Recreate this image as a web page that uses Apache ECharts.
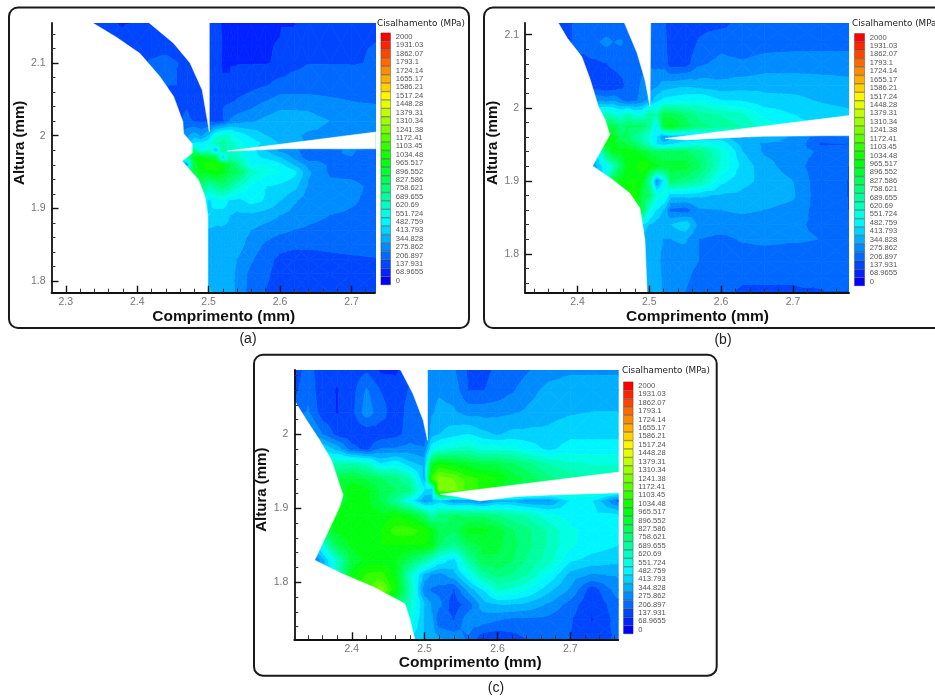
<!DOCTYPE html>
<html><head><meta charset="utf-8">
<style>html,body{margin:0;padding:0;background:#fff}#c{width:935px;height:698px;filter:blur(0.4px)}</style>
<script src="https://cdn.jsdelivr.net/npm/echarts@6/dist/echarts.min.js"></script>
</head><body><div id="c"></div>
<script>
const levelLabels=['2000','1931.03','1862.07','1793.1','1724.14','1655.17','1586.21','1517.24','1448.28','1379.31','1310.34','1241.38','1172.41','1103.45','1034.48','965.517','896.552','827.586','758.621','689.655','620.69','551.724','482.759','413.793','344.828','275.862','206.897','137.931','68.9655','0'];
const legendTitle='Cisalhamento (MPa)', xName='Comprimento (mm)', yName='Altura (mm)';

/* ---- panel (a) ---- */
const xA=[2.33,2.38,2.42,2.44,2.46,2.47,2.48,2.49,2.50,2.51,2.52,2.53,2.54,2.56,2.58,2.60,2.62,2.64,2.67,2.70,2.735];
const yA=[2.155,2.10,2.06,2.04,2.02,2.00,1.99,1.98,1.97,1.96,1.95,1.93,1.91,1.89,1.87,1.85,1.83,1.81,1.784];
const shearA=[
[120,100,110,100,100,100,100,100,130,110,100,100,100,100,100,100,100,150,170,170,170],
[130,130,180,190,170,150,120,120,150,130,100,100,100,100,100,110,150,170,170,170,175],
[150,150,170,170,170,150,130,120,150,120,110,110,150,175,190,230,230,230,220,210,190],
[150,150,170,170,170,170,150,130,150,130,170,190,200,230,270,300,300,300,280,260,250],
[170,170,170,170,170,180,170,160,150,150,170,250,280,300,330,340,340,330,310,300,280],
[250,250,250,250,250,300,350,300,380,540,600,580,500,430,380,340,320,300,300,300,300],
[300,300,300,300,300,300,450,450,500,650,680,620,550,480,430,370,330,300,300,300,300],
[700,700,700,700,700,700,700,500,600,350,700,600,600,480,380,290,260,200,230,250,200],
[600,600,600,600,600,600,950,950,900,850,400,650,600,480,430,380,290,200,240,240,200],
[300,300,300,300,300,300,900,1000,1050,1050,950,850,750,500,520,470,370,280,230,230,210],
[850,850,850,850,850,850,850,950,950,1000,950,850,820,620,540,520,470,320,230,220,200],
[750,750,750,750,750,750,750,750,650,700,750,700,600,500,450,430,400,300,260,260,220],
[600,600,600,600,600,600,600,600,430,480,500,430,420,470,440,380,320,270,270,250,220],
[450,450,450,450,450,450,450,450,450,420,400,380,360,360,340,310,280,260,240,230,210],
[370,370,370,370,370,370,370,370,370,360,370,370,340,310,280,260,240,230,220,210,200],
[350,350,350,350,350,350,350,350,350,350,360,370,340,280,230,190,180,180,185,190,190],
[350,350,350,350,350,350,350,350,350,340,350,350,310,250,190,160,155,155,160,165,170],
[350,350,350,350,350,350,350,350,350,330,340,340,290,220,180,155,150,150,150,155,165],
[400,400,400,400,400,400,400,400,400,350,350,340,290,210,170,155,150,150,150,155,165]];
const leftEdgeA=[[2.28,2.155],[2.338,2.155],[2.3715,2.135],[2.404,2.113],[2.432,2.081],[2.451,2.054],[2.464,2.019],[2.465,2.003],[2.477,1.989],[2.477,1.976],[2.463,1.965],[2.486,1.939],[2.495,1.916],[2.499,1.889],[2.499,1.784],[2.28,1.784]];
const toolGapA=[[2.417,2.155],[2.451,2.127],[2.474,2.10],[2.491,2.063],[2.501,2.0055],[2.501,2.155]];
const wedgeA=[[2.526,1.979],[2.734,2.005],[2.734,1.982],[2.605,1.982],[2.535,1.979]];

/* ---- panel (b) ---- */
const xB=[2.37,2.39,2.41,2.43,2.44,2.45,2.46,2.47,2.48,2.49,2.50,2.51,2.52,2.53,2.55,2.57,2.60,2.63,2.66,2.70,2.74,2.78];
const yB=[2.116,2.09,2.06,2.03,2.01,1.99,1.975,1.96,1.95,1.94,1.92,1.90,1.88,1.86,1.84,1.82,1.79,1.77,1.747];
const shearB=[
[170,170,180,180,190,190,190,190,190,190,190,200,180,150,130,150,150,200,210,210,210,210],
[170,170,200,240,260,240,250,220,220,210,210,210,190,140,130,180,220,200,210,210,210,210],
[170,170,150,160,170,190,200,200,220,230,230,220,210,140,140,230,260,250,270,280,280,280],
[150,150,150,120,110,120,150,190,220,250,280,300,340,350,370,350,330,350,360,350,340,330],
[300,300,300,300,280,300,250,200,230,260,330,420,470,480,500,520,450,440,400,400,370,350],
[600,600,600,600,650,600,550,650,550,550,700,650,850,850,780,700,650,600,500,450,420,400],
[850,850,850,850,850,850,750,800,800,800,700,450,900,950,830,750,700,650,550,480,430,400],
[950,950,950,950,950,950,800,800,700,650,550,450,300,350,350,350,400,300,350,300,200,250],
[950,950,950,950,950,950,900,850,800,700,600,450,400,450,500,550,500,350,300,300,160,170],
[300,300,300,500,800,950,950,1000,950,900,850,800,800,800,800,750,580,380,300,270,230,200],
[200,200,200,400,500,600,800,950,1000,1050,1000,950,900,900,900,800,580,420,340,270,200,170],
[200,200,200,400,500,900,950,1000,1000,950,700,280,450,800,750,680,470,400,360,310,190,170],
[1000,1000,1000,1000,1000,1000,1000,1000,1030,850,800,550,550,400,400,390,370,360,340,320,190,170],
[950,950,950,950,950,950,950,950,950,850,550,450,380,220,200,300,310,320,310,290,200,170],
[450,450,450,450,450,450,450,450,450,450,380,340,330,380,430,280,280,280,270,250,230,180],
[330,330,330,330,330,330,330,330,330,330,330,320,310,310,320,240,220,250,260,250,240,200],
[340,340,340,340,340,340,340,340,340,340,340,320,300,290,270,240,190,190,190,190,210,230],
[350,350,350,350,350,350,350,350,350,350,350,330,300,280,260,210,180,175,175,175,180,200],
[370,370,370,370,370,370,370,370,370,370,370,350,300,270,240,190,175,170,170,170,170,170]];
const leftEdgeB=[[2.327,2.116],[2.3735,2.116],[2.386,2.095],[2.406,2.07],[2.418,2.038],[2.429,2.002],[2.4385,1.984],[2.445,1.963],[2.436,1.947],[2.421,1.9205],[2.45,1.901],[2.473,1.883],[2.487,1.8625],[2.494,1.819],[2.497,1.747],[2.327,1.747]];
const toolGapB=[[2.4655,2.116],[2.483,2.075],[2.494,2.038],[2.501,2.002],[2.502,2.116]];
const wedgeB=[[2.522,1.958],[2.779,1.9895],[2.779,1.962],[2.659,1.961],[2.5895,1.958],[2.552,1.956]];

/* ---- panel (c) ---- */
const xC=[2.32,2.34,2.36,2.38,2.40,2.42,2.44,2.46,2.48,2.50,2.51,2.52,2.54,2.56,2.58,2.60,2.62,2.64,2.67,2.70,2.73,2.766];
const yC=[2.087,2.06,2.03,2.00,1.98,1.96,1.94,1.925,1.91,1.89,1.87,1.85,1.83,1.81,1.79,1.77,1.75,1.723];
const shearC=[
[130,200,130,120,140,160,90,90,150,200,280,280,250,160,160,180,190,230,280,300,300,300],
[150,220,120,100,140,250,170,130,180,220,290,300,280,170,170,190,230,280,330,340,340,340],
[200,250,130,100,150,280,200,130,200,230,300,330,320,280,280,290,300,320,350,370,380,380],
[300,350,240,150,120,120,130,150,200,170,350,380,420,450,400,370,400,400,400,430,430,430],
[450,450,450,350,200,150,250,250,270,250,500,550,600,620,560,560,550,500,430,480,480,480],
[500,500,500,650,650,620,450,500,400,350,900,1000,950,900,850,850,800,750,650,600,580,580],
[850,850,850,850,900,850,800,750,650,350,1100,1250,1200,1100,1050,1000,900,850,750,700,650,620],
[850,850,850,850,1000,950,850,800,750,450,400,1250,1250,1100,1050,950,850,800,700,650,620,600],
[900,900,900,900,950,950,850,700,500,300,350,400,280,300,250,350,350,300,300,450,450,220],
[950,950,950,950,1000,1000,950,1000,950,800,650,750,800,780,780,730,680,650,540,490,480,460],
[850,850,850,950,1000,1000,1000,1100,1100,1050,950,850,800,950,950,900,800,750,640,530,500,480],
[300,300,550,850,950,1000,1000,1000,1000,1000,950,800,700,830,880,880,820,750,640,530,480,450],
[150,150,350,600,880,950,950,950,820,680,600,500,420,680,850,850,800,720,620,460,420,400],
[150,150,300,600,950,1080,1100,950,600,350,300,280,350,500,680,750,720,660,510,350,300,320],
[1100,1100,1100,1100,1100,1100,1250,1000,650,250,230,220,170,330,450,600,570,520,400,300,130,280],
[800,800,800,800,800,800,800,800,600,380,300,260,130,200,340,380,380,360,300,210,110,220],
[550,550,550,550,550,550,550,550,550,370,320,180,170,280,280,250,230,230,220,180,100,200],
[450,450,450,450,450,450,450,450,450,380,350,320,280,230,120,110,140,170,200,170,120,190]];
const leftEdgeC=[[2.321,2.046],[2.338,2.019],[2.356,1.992],[2.372,1.965],[2.388,1.918],[2.3835,1.902],[2.349,1.830],[2.386,1.812],[2.429,1.794],[2.473,1.771],[2.48,1.749],[2.4865,1.723],[2.321,1.723]];
const toolGapC=[[2.467,2.087],[2.484,2.055],[2.498,2.019],[2.504,1.992],[2.504,2.087]];
const wedgeC=[[2.521,1.919],[2.767,1.949],[2.767,1.921],[2.672,1.918],[2.626,1.916],[2.576,1.910],[2.544,1.916]];

const STEP=2000/29;
function bandColor(v){
  let r=0,g=0,b=0;
  if(v<=500){b=255;g=255*v/500;}
  else if(v<=1000){g=255;b=255*(1000-v)/500;}
  else if(v<=1500){g=255;r=255*(v-1000)/500;}
  else{r=255;g=255*(2000-v)/500;}
  return `rgb(${r|0},${g|0},${b|0})`;
}
function clipTri(poly,lim,keepAbove){
  const out=[];
  for(let i=0;i<poly.length;i++){
    const a=poly[i],b=poly[(i+1)%poly.length];
    const ia=keepAbove?a[2]>=lim:a[2]<=lim, ib=keepAbove?b[2]>=lim:b[2]<=lim;
    if(ia)out.push(a);
    if(ia!==ib){const t=(lim-a[2])/(b[2]-a[2]);out.push([a[0]+t*(b[0]-a[0]),a[1]+t*(b[1]-a[1]),lim]);}
  }
  return out;
}
function bands(xs,ys,m){
  const res=[];
  const tri=(p,q,r)=>{
    const vs=[p[2],q[2],r[2]];
    const k0=Math.round(Math.min(...vs)/STEP),k1=Math.round(Math.max(...vs)/STEP);
    for(let k=k0;k<=k1;k++){
      let pl=[p,q,r];
      pl=clipTri(pl,(k-.5)*STEP,true); if(pl.length<3)continue;
      pl=clipTri(pl,(k+.5)*STEP,false); if(pl.length<3)continue;
      res.push({k,pts:pl});
    }
  };
  for(let j=0;j<ys.length-1;j++)for(let i=0;i<xs.length-1;i++){
    const A=[xs[i],ys[j],m[j][i]],B=[xs[i+1],ys[j],m[j][i+1]],C=[xs[i+1],ys[j+1],m[j+1][i+1]],D=[xs[i],ys[j+1],m[j+1][i]];
    const O=[(xs[i]+xs[i+1])/2,(ys[j]+ys[j+1])/2,(A[2]+B[2]+C[2]+D[2])/4];
    tri(A,B,O);tri(B,C,O);tri(C,D,O);tri(D,A,O);
  }
  return res;
}
function minorTicks(lo,hi,major){
  const r=[];for(let i=Math.ceil(lo/0.02-1e-6);i*0.02<=hi;i++){const v=+(i*0.02).toFixed(2);if(!major.includes(v))r.push(v);}
  return r;
}

const panels=[
 {xs:xA,ys:yA,m:shearA,masks:[leftEdgeA,toolGapA,wedgeA],xr:[2.28,2.733],yr:[1.784,2.155],xt:[2.3,2.4,2.5,2.6,2.7],yt:[1.8,1.9,2,2.1],
  box:[51.5,23,323.5,269.7],leg:[380.7,32.7,10,252.3],title:[377,24],frame:[9,7.5,460,320.5],cap:['(a)',248,339],yGap:18,xPad:21},
 {xs:xB,ys:yB,m:shearB,masks:[leftEdgeB,toolGapB,wedgeB],xr:[2.327,2.778],yr:[1.747,2.116],xt:[2.4,2.5,2.6,2.7],yt:[1.8,1.9,2,2.1],
  box:[525,23,324,269.7],leg:[854.3,33.3,10.5,252.7],title:[852,24],frame:[484,7.5,460,320.5],cap:['(b)',723,340],yGap:18,xPad:21},
 {xs:xC,ys:yC,m:shearC,masks:[leftEdgeC,toolGapC,wedgeC],xr:[2.321,2.766],yr:[1.723,2.087],xt:[2.4,2.5,2.6,2.7],yt:[1.8,1.9,2],
  box:[294.3,370,324,269.3],leg:[623.3,381.7,10,252.3],title:[622,371],frame:[254,354.7,462.7,321],cap:['(c)',496,688],yGap:14,xPad:28}
];

const grid=[],xAxis=[],yAxis=[],series=[],graphic=[];
panels.forEach(p=>{
  graphic.push({type:'rect',z:0,shape:{x:p.frame[0],y:p.frame[1],width:p.frame[2],height:p.frame[3],r:9},style:{fill:'#fff',stroke:'#1a1a1a',lineWidth:2}});
  graphic.push({type:'text',z:1,x:p.cap[1],y:p.cap[2],style:{text:p.cap[0],fill:'#222',font:'14px "Liberation Sans"',align:'center',verticalAlign:'middle'}});
  graphic.push({type:'text',z:1,x:p.title[0],y:p.title[1],style:{text:legendTitle,fill:'#222',font:'8.8px "DejaVu Sans"',align:'left',verticalAlign:'middle'}});
  const g=grid.length;
  grid.push({left:p.box[0],top:p.box[1],width:p.box[2],height:p.box[3]});
  const axisBase={type:'value',gridIndex:g,splitLine:{show:false}};
  const xi=xAxis.length,yi=yAxis.length;
  xAxis.push({...axisBase,min:p.xr[0],max:p.xr[1],z:10,position:'bottom',name:xName,nameLocation:'middle',nameGap:15,
    nameTextStyle:{fontFamily:'Liberation Sans',fontWeight:'bold',fontSize:15.5,color:'#111',padding:[0,0,0,p.xPad]},
    axisLine:{onZero:false,lineStyle:{color:'#111',width:1.8}},
    axisTick:{show:true,inside:true,length:7,customValues:p.xt,lineStyle:{color:'#111',width:1.4}},
    axisLabel:{customValues:p.xt,color:'#777',fontSize:10.5,margin:4,fontFamily:'Liberation Sans'}});
  yAxis.push({...axisBase,min:p.yr[0],max:p.yr[1],z:10,position:'left',name:yName,nameLocation:'middle',nameGap:p.yGap,
    nameTextStyle:{fontFamily:'Liberation Sans',fontWeight:'bold',fontSize:15,color:'#111',padding:[0,0,0,30]},
    axisLine:{onZero:false,lineStyle:{color:'#111',width:1.8}},
    axisTick:{show:true,inside:true,length:7,customValues:p.yt,lineStyle:{color:'#111',width:1.4}},
    axisLabel:{customValues:p.yt,color:'#777',fontSize:10.5,margin:6,fontFamily:'Liberation Sans'}});
  /* minor ticks share the same grid */
  xAxis.push({...axisBase,min:p.xr[0],max:p.xr[1],z:10,position:'bottom',axisLine:{show:false,onZero:false},axisLabel:{show:false},
    axisTick:{show:true,inside:true,length:4,customValues:minorTicks(p.xr[0],p.xr[1],p.xt),lineStyle:{color:'#333',width:1}}});
  yAxis.push({...axisBase,min:p.yr[0],max:p.yr[1],z:10,position:'left',axisLine:{show:false,onZero:false},axisLabel:{show:false},
    axisTick:{show:true,inside:true,length:4,customValues:minorTicks(p.yr[0],p.yr[1],p.yt),lineStyle:{color:'#333',width:1}}});
  const polys=bands(p.xs,p.ys,p.m);
  series.push({type:'custom',coordinateSystem:'cartesian2d',xAxisIndex:xi,yAxisIndex:yi,clip:true,silent:true,animation:false,progressive:0,z:2,
    data:polys.map((q,i)=>[q.pts[0][0],q.pts[0][1],i]),
    renderItem:(prm,api)=>{const q=polys[prm.dataIndex];const c=bandColor(q.k*STEP);
      return {type:'polygon',shape:{points:q.pts.map(t=>api.coord([t[0],t[1]]))},style:{fill:c,stroke:c,lineWidth:0.7}};}});
  series.push({type:'custom',coordinateSystem:'cartesian2d',xAxisIndex:xi,yAxisIndex:yi,clip:true,silent:true,animation:false,z:3,
    data:p.masks.map((q,i)=>[q[0][0],q[0][1],i]),
    renderItem:(prm,api)=>({type:'polygon',shape:{points:p.masks[prm.dataIndex].map(t=>api.coord(t))},style:{fill:'#fff',stroke:'#fff',lineWidth:0.5}})});
  /* colour legend */
  const lg=grid.length;
  grid.push({left:p.leg[0],top:p.leg[1],width:p.leg[2],height:p.leg[3]});
  const lx=xAxis.length,ly=yAxis.length;
  xAxis.push({type:'value',gridIndex:lg,min:0,max:1,show:false});
  yAxis.push({type:'category',gridIndex:lg,inverse:true,position:'right',data:levelLabels,
    axisLine:{show:false},axisTick:{show:false},
    axisLabel:{interval:0,color:'#555',fontSize:7.6,margin:5,padding:[3,0,0,0],fontFamily:'Liberation Sans'}});
  series.push({type:'bar',xAxisIndex:lx,yAxisIndex:ly,barWidth:'100%',silent:true,animation:false,
    data:levelLabels.map(l=>({value:1,itemStyle:{color:bandColor(+l),borderColor:'#333',borderWidth:0.4}}))});
});
const chart=echarts.init(document.getElementById('c'),null,{renderer:'canvas',width:935,height:698});
chart.setOption({backgroundColor:'#fff',animation:false,grid,xAxis,yAxis,series,graphic});
</script></body></html>
